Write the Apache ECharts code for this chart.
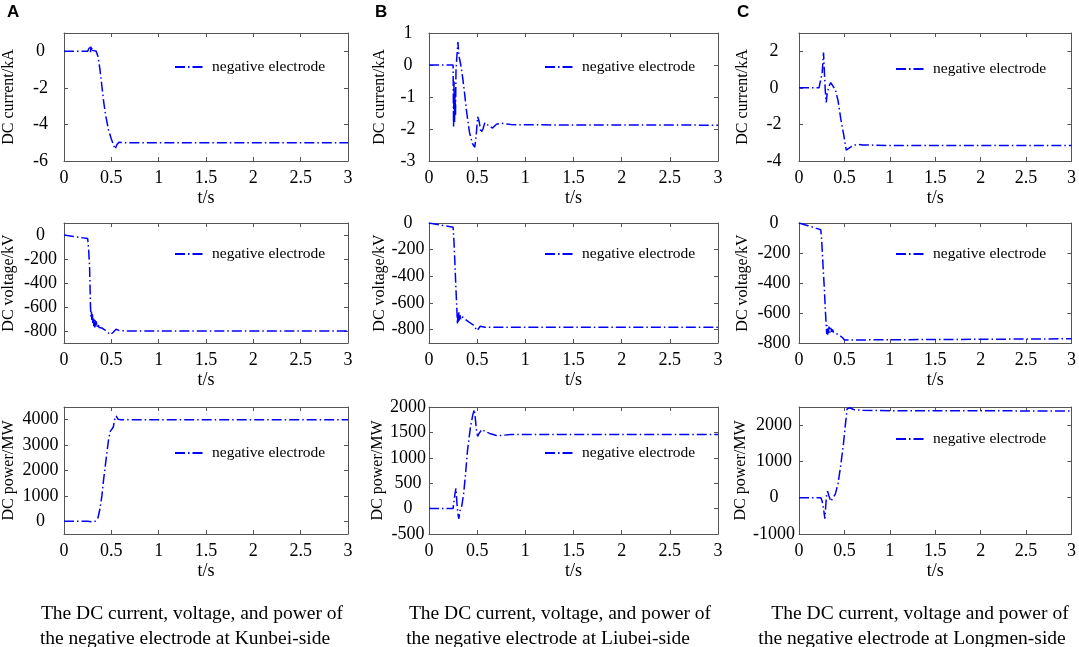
<!DOCTYPE html>
<html>
<head>
<meta charset="utf-8">
<script src="https://cdn.jsdelivr.net/npm/echarts@6/dist/echarts.min.js"></script>
<style>
html,body{margin:0;padding:0;background:#fff;}
#chart{width:1079px;height:647px;}
</style>
</head>
<body>
<div id="chart"></div>
<script>
// ---- data (t in s) ----
var seriesName = 'negative electrode';
var xTicks = [0, 0.5, 1, 1.5, 2, 2.5, 3];

var kunbeiCurrent = [[0,0],[0.25,0],[0.27,0.05],[0.275,0.3],[0.28,-0.05],[0.285,0.25],[0.29,0],[0.295,0.2],[0.3,0.05],[0.31,0.15],[0.32,0.05],[0.34,0],[0.36,-0.3],[0.38,-1.0],[0.40,-1.9],[0.42,-2.8],[0.44,-3.5],[0.47,-4.3],[0.5,-4.8],[0.54,-5.35],[0.56,-5.1],[0.58,-4.97],[0.62,-5.0],[3,-5.0]];
var liubeiCurrent = [[0,0],[0.25,0],[0.255,-1.95],[0.26,-0.5],[0.265,-1.8],[0.27,-0.9],[0.275,-1.6],[0.28,-0.2],[0.29,0.3],[0.3,0.72],[0.31,0.3],[0.33,0.0],[0.35,-0.4],[0.37,-0.9],[0.39,-1.45],[0.42,-2.1],[0.45,-2.45],[0.475,-2.57],[0.49,-2.2],[0.505,-1.62],[0.52,-1.75],[0.54,-2.12],[0.56,-2.0],[0.58,-1.8],[0.62,-1.9],[0.66,-1.97],[0.7,-1.85],[0.75,-1.82],[0.85,-1.86],[1.0,-1.87],[3,-1.88]];
var longmenCurrent = [[0,0],[0.22,0],[0.24,0.02],[0.255,0.8],[0.27,1.93],[0.28,0.8],[0.29,-0.2],[0.3,-0.8],[0.31,-0.3],[0.33,0.1],[0.35,0.28],[0.37,0.25],[0.4,-0.1],[0.43,-0.7],[0.46,-1.7],[0.49,-2.5],[0.52,-3.4],[0.54,-3.3],[0.58,-3.2],[0.64,-3.08],[0.7,-3.12],[1.0,-3.15],[3,-3.15]];

var kunbeiVoltage = [[0,0],[0.1,-12],[0.25,-30],[0.26,-120],[0.27,-260],[0.28,-600],[0.285,-680],[0.29,-640],[0.295,-720],[0.3,-660],[0.305,-740],[0.31,-690],[0.315,-760],[0.32,-700],[0.325,-770],[0.33,-710],[0.335,-760],[0.34,-720],[0.35,-770],[0.36,-740],[0.37,-770],[0.38,-760],[0.40,-775],[0.43,-790],[0.46,-810],[0.49,-830],[0.52,-810],[0.55,-785],[0.58,-795],[0.65,-800],[3,-800]];
var liubeiVoltage = [[0,0],[0.1,-13],[0.25,-32],[0.26,-150],[0.27,-320],[0.28,-500],[0.29,-660],[0.295,-760],[0.3,-680],[0.305,-740],[0.31,-670],[0.315,-730],[0.32,-690],[0.33,-720],[0.34,-700],[0.35,-715],[0.38,-725],[0.42,-745],[0.46,-765],[0.5,-808],[0.53,-775],[0.58,-782],[3,-782]];
var longmenVoltage = [[0,0],[0.1,-18],[0.24,-45],[0.25,-120],[0.265,-290],[0.28,-450],[0.29,-580],[0.3,-690],[0.305,-740],[0.31,-680],[0.315,-745],[0.32,-700],[0.325,-735],[0.33,-690],[0.34,-730],[0.35,-700],[0.36,-725],[0.37,-710],[0.38,-730],[0.4,-725],[0.44,-745],[0.48,-765],[0.5,-780],[0.52,-772],[3,-772]];

var kunbeiPower = [[0,0],[0.25,0],[0.3,-20],[0.33,0],[0.36,150],[0.38,500],[0.40,1000],[0.42,1700],[0.445,2450],[0.47,3200],[0.49,3550],[0.52,3700],[0.535,4000],[0.55,4150],[0.57,4020],[0.6,4000],[3,4000]];
var liubeiPower = [[0,0],[0.25,0],[0.26,20],[0.27,300],[0.28,400],[0.29,100],[0.3,-100],[0.31,-200],[0.32,-50],[0.34,50],[0.36,300],[0.38,700],[0.40,1150],[0.43,1600],[0.455,1850],[0.47,1950],[0.48,1800],[0.49,1580],[0.505,1420],[0.52,1480],[0.55,1560],[0.58,1520],[0.63,1480],[0.7,1440],[0.75,1440],[0.85,1460],[3,1460]];
var longmenPower = [[0,0],[0.24,0],[0.255,-100],[0.27,-300],[0.285,-580],[0.295,-200],[0.305,100],[0.315,180],[0.33,50],[0.35,-100],[0.37,-80],[0.40,100],[0.43,400],[0.46,900],[0.49,1500],[0.51,2000],[0.53,2450],[0.56,2480],[0.6,2430],[0.7,2410],[1.0,2400],[3,2390]];

var yTicksCurA = [-6,-4,-2,0];
var yTicksCurB = [-3,-2,-1,0,1];
var yTicksCurC = [-4,-2,0,2];
var yTicksVolA = [-800,-600,-400,-200,0];
var yTicksVolB = [-800,-600,-400,-200,0];
var yTicksVolC = [-800,-600,-400,-200,0];
var yTicksPowA = [0,1000,2000,3000,4000];
var yTicksPowB = [-500,0,500,1000,1500,2000];
var yTicksPowC = [-1000,0,1000,2000];

var yNames = ['DC current/kA','DC voltage/kV','DC power/MW'];
var panelLetters = ['A','B','C'];
var captions = [
  ['The DC current, voltage, and power of','the negative electrode at Kunbei-side'],
  ['The DC current, voltage, and power of','the negative electrode at Liubei-side'],
  ['The DC current, voltage and power of','the negative electrode at Longmen-side']
];

// ---- layout ----
var cols = [
  {left:62, right:348, labelMargin:23.5, nameGap:47, legendX:174, letterX:7, capX:[192,185]},
  {left:429, right:718, labelMargin:21, nameGap:41, legendX:544, letterX:375, capX:[560,548]},
  {left:799, right:1073, labelMargin:25, nameGap:48, legendX:895, letterX:737, capX:[920,912]}
];
var rows = [{top:33, bottom:161}, {top:223, bottom:343}, {top:407, bottom:534}];
var legendY = [[67,67,69],[254,254,254],[453,453,439]];

var panels = [
  [0,0,kunbeiCurrent,-6,1,yTicksCurA],
  [0,1,liubeiCurrent,-3,1,yTicksCurB],
  [0,2,longmenCurrent,-4,3,yTicksCurC],
  [1,0,kunbeiVoltage,-900,100,yTicksVolA],
  [1,1,liubeiVoltage,-900,0,yTicksVolB],
  [1,2,longmenVoltage,-800,0,yTicksVolC],
  [2,0,kunbeiPower,-500,4500,yTicksPowA],
  [2,1,liubeiPower,-500,2000,yTicksPowB],
  [2,2,longmenPower,-1000,2500,yTicksPowC]
];

var frameColor = '#555';
var serif = '"Liberation Serif","Times New Roman",serif';
var plain = function(v){ return String(v); };
var grids = [], xAxes = [], yAxes = [], series = [], legends = [], graphics = [];

panels.forEach(function(p, i){
  var r = rows[p[0]], c = cols[p[1]];
  grids.push({left:c.left, top:r.top, width:c.right-c.left, height:r.bottom-r.top, containLabel:false, show:false});
  var lineAx = {show:true, onZero:false, lineStyle:{color:frameColor, width:1}};
  var tickAx = {show:true, inside:true, length:4, lineStyle:{color:frameColor}};
  xAxes.push({type:'value', gridIndex:i, position:'bottom', min:0, max:3, interval:0.5,
    axisLine:lineAx, axisTick:tickAx, splitLine:{show:false},
    axisLabel:{color:'#000', fontFamily:serif, fontSize:18, margin:8, formatter:plain},
    name:'t/s', nameLocation:'middle', nameGap:28, nameTextStyle:{color:'#000', fontFamily:serif, fontSize:18}});
  xAxes.push({type:'value', gridIndex:i, position:'top', min:0, max:3, interval:0.5,
    axisLine:lineAx, axisTick:tickAx, splitLine:{show:false}, axisLabel:{show:false}});
  yAxes.push({type:'value', gridIndex:i, position:'left', min:p[3], max:p[4],
    axisLine:lineAx, axisTick:{show:true, inside:true, length:4, lineStyle:{color:frameColor}, customValues:p[5]},
    splitLine:{show:false},
    axisLabel:{color:'#000', fontFamily:serif, fontSize:18, margin:c.labelMargin, align:'center', customValues:p[5], formatter:plain},
    name:yNames[p[0]], nameLocation:'middle', nameGap:c.nameGap,
    nameTextStyle:{color:'#000', fontFamily:serif, fontSize:16}});
  yAxes.push({type:'value', gridIndex:i, position:'right', min:p[3], max:p[4],
    axisLine:lineAx, axisTick:{show:true, inside:true, length:4, lineStyle:{color:frameColor}, customValues:p[5]},
    splitLine:{show:false}, axisLabel:{show:false}});
  series.push({type:'line', name:seriesName, xAxisIndex:2*i, yAxisIndex:2*i, data:p[2],
    symbol:'none', showSymbol:false, animation:false, silent:true,
    lineStyle:{color:'#0000ff', width:1.5, type:[10,3,1.5,3]}, itemStyle:{color:'#0000ff'}});
  legends.push({data:[seriesName], left:c.legendX, top:legendY[p[0]][p[1]]-8, padding:0,
    itemWidth:29, itemHeight:14, selectedMode:false,
    itemStyle:{opacity:0},
    textStyle:{color:'#000', fontFamily:serif, fontSize:15.5, lineHeight:16, padding:[0,0,0,3]}});
});

cols.forEach(function(c, j){
  graphics.push({type:'text', left:c.letterX, top:4, style:{text:panelLetters[j], fill:'#000',
    font:'bold 17px "Liberation Sans", Arial, sans-serif'}});
  captions[j].forEach(function(line, k){
    graphics.push({type:'text', x:c.capX[k], y:[614,639][k], style:{text:line, fill:'#000',
      font:'19.5px "Liberation Serif","Times New Roman",serif', align:'center', verticalAlign:'middle'}});
  });
});

var chart = echarts.init(document.getElementById('chart'), null, {renderer:'canvas'});
chart.setOption({
  animation:false,
  backgroundColor:'#fff',
  grid:grids, xAxis:xAxes, yAxis:yAxes, series:series, legend:legends, graphic:graphics
});
</script>
</body>
</html>
